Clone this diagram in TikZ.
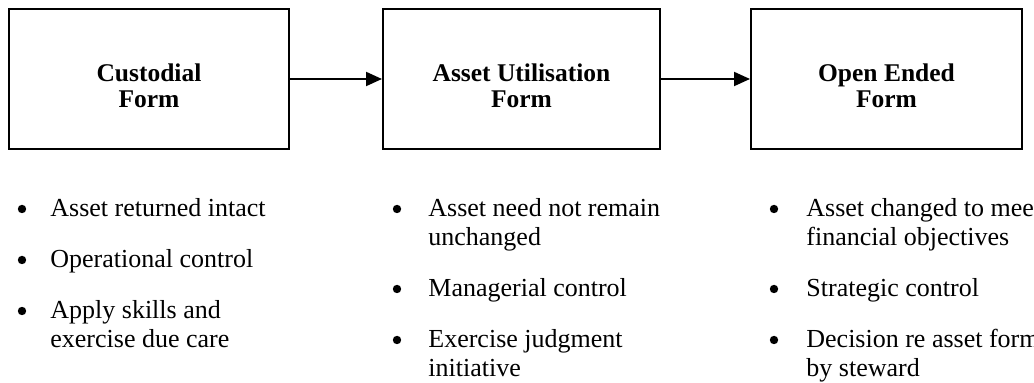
\documentclass[tikz,border=0pt]{standalone}
\usepackage{fontspec}
\setmainfont{Liberation Serif}
\usetikzlibrary{positioning,arrows.meta}

\begin{document}
\begin{tikzpicture}[x=0.5pt,y=-0.5pt,
    formbox/.style={draw,line width=1pt,minimum height=70pt,inner sep=0pt},
    formtitle/.style={align=center,inner sep=0pt,font=\fontsize{12.75}{12.75}\selectfont\bfseries},
    item/.style={anchor=base west,align=left,inner sep=0pt,font=\fontsize{13}{14.5}\selectfont},
    dot/.style={circle,fill,inner sep=0pt,minimum size=4.2pt},
    flow/.style={line width=1pt,-{Triangle[length=8pt,width=7pt]}}
  ]
  \useasboundingbox (0,0) rectangle (1034,383);

  % the three forms
  \node[formbox,minimum width=140pt] (cust) at (149,79) {};
  \node[formbox,minimum width=138.5pt] (util) at (521.5,79) {};
  \node[formbox,minimum width=135.5pt] (open) at (886.5,79) {};

  \node[formtitle] (custt) at ([yshift=-3.5pt]cust.center) {Custodial\\Form};
  \node[formtitle] (utilt) at ([yshift=-3.5pt]util.center) {Asset Utilisation\\Form};
  \node[formtitle] (opent) at ([yshift=-3.5pt]open.center) {Open Ended\\Form};

  % the arrows
  \draw[flow] (cust) -- (util);
  \draw[flow] (util) -- (open);

  % the points under each form (\yy first line, \yl last line)
  \foreach \txt/\yy/\yl [count=\i] in {Asset returned intact/217/217,Operational control/268/268,{Apply skills and\\exercise due care}/319/348}{
    \node[dot] (cb\i) at (22,\yy-8) {};
    \node[item] (c\i) at (50,\yl) {\txt};
  }
  \foreach \txt/\yy/\yl [count=\i] in {{Asset need not remain\\unchanged}/217/246,Managerial control/297/297,{Exercise judgment\\initiative}/348/377}{
    \node[dot] (ub\i) at (397,\yy-8) {};
    \node[item] (u\i) at (428,\yl) {\txt};
  }
  \foreach \txt/\yy/\yl [count=\i] in {{Asset changed to meet\\financial objectives}/217/246,Strategic control/297/297,{Decision re asset form\\by steward}/348/377}{
    \node[dot] (ob\i) at (774,\yy-8) {};
    \node[item] (o\i) at (806,\yl) {\txt};
  }
\end{tikzpicture}
\end{document}
